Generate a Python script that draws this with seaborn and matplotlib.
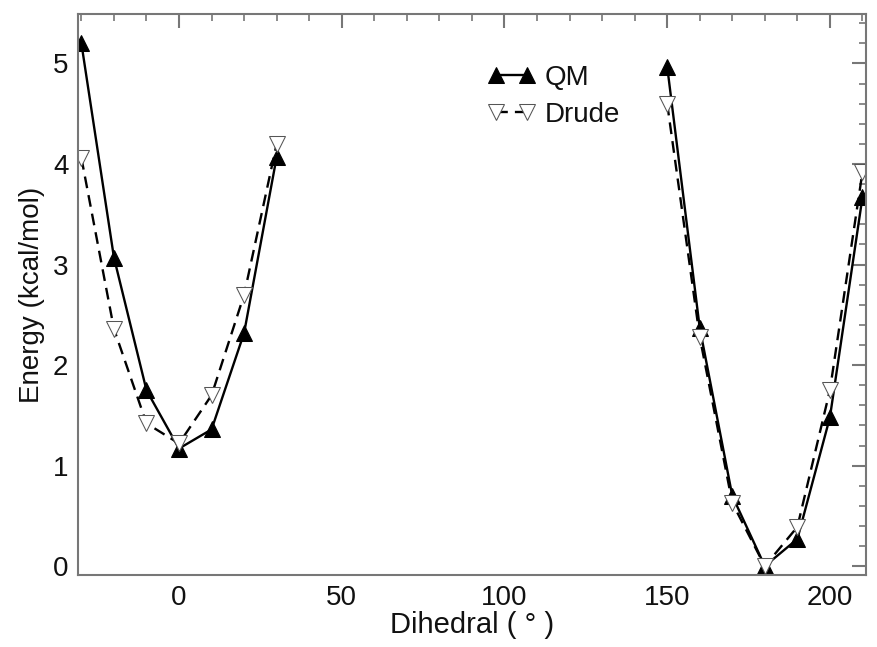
import numpy as np
import pandas as pd
import matplotlib
matplotlib.use("Agg")
import matplotlib.pyplot as plt
from matplotlib.ticker import MultipleLocator
import seaborn as sns

# Dihedral scan points (two separate windows)
dihedral = [-30, -20, -10, 0, 10, 20, 30, 150, 160, 170, 180, 190, 200, 210]
segment = [0, 0, 0, 0, 0, 0, 0, 1, 1, 1, 1, 1, 1, 1]
qm_energy = [5.20, 3.07, 1.75, 1.17, 1.36, 2.32, 4.07,
             4.97, 2.37, 0.70, 0.00, 0.27, 1.48, 3.67]
drude_energy = [4.06, 2.36, 1.42, 1.22, 1.70, 2.70, 4.20,
                4.60, 2.28, 0.63, 0.00, 0.39, 1.75, 3.92]

df = pd.DataFrame({"dihedral": dihedral, "seg": segment,
                   "QM": qm_energy, "Drude": drude_energy})

sns.set_theme(style="white")
plt.rcParams["font.family"] = ["Liberation Sans", "DejaVu Sans"]
plt.rcParams["text.color"] = "#111111"
plt.rcParams["axes.labelcolor"] = "#111111"

fig = plt.figure(figsize=(8.78, 6.47), dpi=100)
ax = fig.add_axes([0.089, 0.111, 0.897, 0.867])

sns.lineplot(data=df, x="dihedral", y="QM", units="seg", estimator=None,
             color="black", lw=1.7, marker="^", markersize=11,
             markerfacecolor="black", markeredgecolor="black", ax=ax,
             label="QM")
sns.lineplot(data=df, x="dihedral", y="Drude", units="seg", estimator=None,
             color="black", lw=1.7, dashes=(5, 3), marker="v", markersize=11,
             markerfacecolor="white", markeredgecolor="#555555", ax=ax,
             label="Drude")

ax.set_xlim(-31, 211)
ax.set_ylim(-0.09, 5.49)
ax.xaxis.set_major_locator(MultipleLocator(50))
ax.xaxis.set_minor_locator(MultipleLocator(10))
ax.yaxis.set_major_locator(MultipleLocator(1))
ax.yaxis.set_minor_locator(MultipleLocator(0.2))
ax.tick_params(which="both", direction="in", top=True, right=True,
               color="#777777", labelcolor="#111111", labelsize=20, pad=7)
ax.tick_params(which="major", length=10, width=1.5)
ax.tick_params(which="minor", length=5, width=1.2)
for s in ax.spines.values():
    s.set_color("#777777")
    s.set_linewidth(1.5)

ax.set_xlabel("Dihedral ( ° )", fontsize=21, labelpad=0)
ax.set_ylabel("Energy (kcal/mol)", fontsize=20, labelpad=6)

# one legend entry per series (units create duplicate handles)
handles, labels = ax.get_legend_handles_labels()
seen = {}
for h, l in zip(handles, labels):
    seen.setdefault(l, h)
ax.legend(list(seen.values()), list(seen.keys()), loc="upper left",
          bbox_to_anchor=(0.52, 0.91), frameon=False,
          fontsize=20, numpoints=2, handlelength=1.7, handletextpad=0.35,
          labelspacing=0.4, borderaxespad=0, borderpad=0)

fig.savefig("out.png", dpi=100)
